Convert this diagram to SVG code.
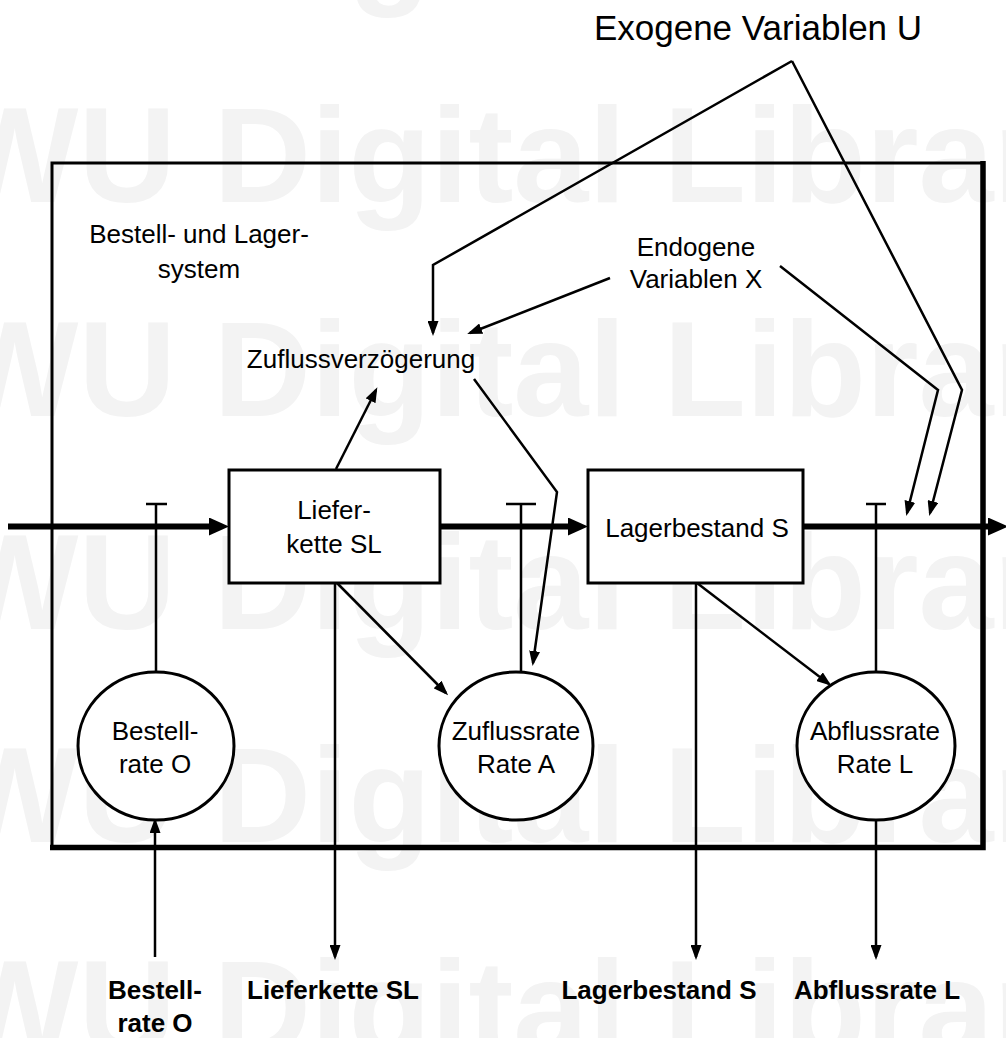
<svg xmlns="http://www.w3.org/2000/svg" width="1006" height="1038" viewBox="0 0 1006 1038">
<style>
.wm{font-family:"Liberation Sans",Arial,sans-serif;font-weight:bold;font-size:135px;fill:#f3f3f3}
.t{font-family:"Liberation Sans",Arial,sans-serif;font-size:26px;fill:#000;text-anchor:middle}
.b{font-family:"Liberation Sans",Arial,sans-serif;font-size:26px;font-weight:bold;fill:#000;text-anchor:middle}
.big{font-family:"Liberation Sans",Arial,sans-serif;font-size:35px;fill:#000;text-anchor:middle}
.box{fill:#fff;stroke:#000;stroke-width:3}
.circ{fill:#fff;stroke:#000;stroke-width:3}
.thin{fill:none;stroke:#000;stroke-width:2.5;stroke-linejoin:miter}
.arr{fill:none;stroke:#000;stroke-width:2.5;marker-end:url(#ah)}
.farr{fill:none;stroke:#000;stroke-width:6;marker-end:url(#fh)}
</style>
<defs>
<marker id="ah" markerUnits="userSpaceOnUse" markerWidth="15" markerHeight="11" refX="12" refY="5.5" orient="auto">
<path d="M0,0 L15,5.5 L0,11 z" fill="#000"/>
</marker>
<marker id="fh" markerUnits="userSpaceOnUse" markerWidth="20" markerHeight="18" refX="0" refY="9" orient="auto">
<path d="M0,0 L20,9 L0,18 z" fill="#000"/>
</marker>
</defs>
<rect width="1006" height="1038" fill="#fff"/>
<g id="watermark">
<text class="wm" x="-49" y="-11">WU Digital Library</text>
<text class="wm" x="-49" y="202">WU Digital Library</text>
<text class="wm" x="-49" y="416">WU Digital Library</text>
<text class="wm" x="-49" y="629">WU Digital Library</text>
<text class="wm" x="-49" y="842">WU Digital Library</text>
<text class="wm" x="-49" y="1055">WU Digital Library</text>
</g>
<g id="system-boundary">
<path class="thin" style="stroke-width:3" d="M52,845 V163 H983"/>
<path fill="none" stroke="#000" stroke-width="5.5" d="M983,161 V847.5 H50"/>
<text class="t" x="199" y="243">Bestell- und Lager-</text>
<text class="t" x="199" y="278">system</text>
</g>
<g id="connectors">
<path class="farr" d="M8,526.5 H209"/>
<path class="farr" d="M440,526.5 H568"/>
<path class="farr" d="M803,526.5 H988"/>
<path class="thin" d="M156,672 V504 M146,504 H167"/>
<path class="thin" d="M521,672 V504 M506,504 H536"/>
<path class="thin" d="M876,672 V504 M866,504 H886"/>
<path class="arr" d="M336,469 L376,390"/>
<path class="arr" d="M337,583 L446,693"/>
<path class="arr" d="M697,583 L829,684"/>
<path class="arr" d="M335,583 V957"/>
<path class="arr" d="M696,583 V957"/>
<path class="arr" d="M876,820 V957"/>
<path class="arr" d="M155,957 V821"/>
<path class="arr" d="M474,379 L557,492 L533,663"/>
<path class="arr" d="M792,61 L433,265 V333"/>
<path class="arr" d="M792,61 L962,390 L930,513"/>
<path class="arr" d="M610,278 L470,333"/>
<path class="arr" d="M780,266 L938,390 L907,513"/>
</g>
<g id="node-exogen">
<text class="big" x="758" y="40">Exogene Variablen U</text>
</g>
<g id="node-endogen">
<text class="t" x="696" y="256">Endogene</text>
<text class="t" x="696" y="288">Variablen X</text>
</g>
<g id="node-zuflussverzoegerung">
<text class="t" x="361" y="368">Zuflussverzögerung</text>
</g>
<g id="node-lieferkette">
<rect class="box" x="229" y="470" width="211" height="113"/>
<text class="t" x="334" y="519">Liefer-</text>
<text class="t" x="334" y="553">kette SL</text>
</g>
<g id="node-lagerbestand">
<rect class="box" x="588" y="470" width="215" height="113"/>
<text class="t" x="697" y="537">Lagerbestand S</text>
</g>
<g id="node-bestellrate">
<ellipse class="circ" cx="156" cy="746" rx="78" ry="74"/>
<text class="t" x="155" y="740">Bestell-</text>
<text class="t" x="155" y="773">rate O</text>
</g>
<g id="node-zuflussrate">
<ellipse class="circ" cx="516" cy="746" rx="77" ry="74"/>
<text class="t" x="516" y="740">Zuflussrate</text>
<text class="t" x="516" y="773">Rate A</text>
</g>
<g id="node-abflussrate">
<ellipse class="circ" cx="876" cy="746" rx="79" ry="74"/>
<text class="t" x="875" y="740">Abflussrate</text>
<text class="t" x="875" y="773">Rate L</text>
</g>
<g id="outputs">
<text class="b" x="155" y="999">Bestell-</text>
<text class="b" x="155" y="1032">rate O</text>
<text class="b" x="333" y="999">Lieferkette SL</text>
<text class="b" x="659" y="999">Lagerbestand S</text>
<text class="b" x="877" y="999">Abflussrate L</text>
</g>
</svg>
